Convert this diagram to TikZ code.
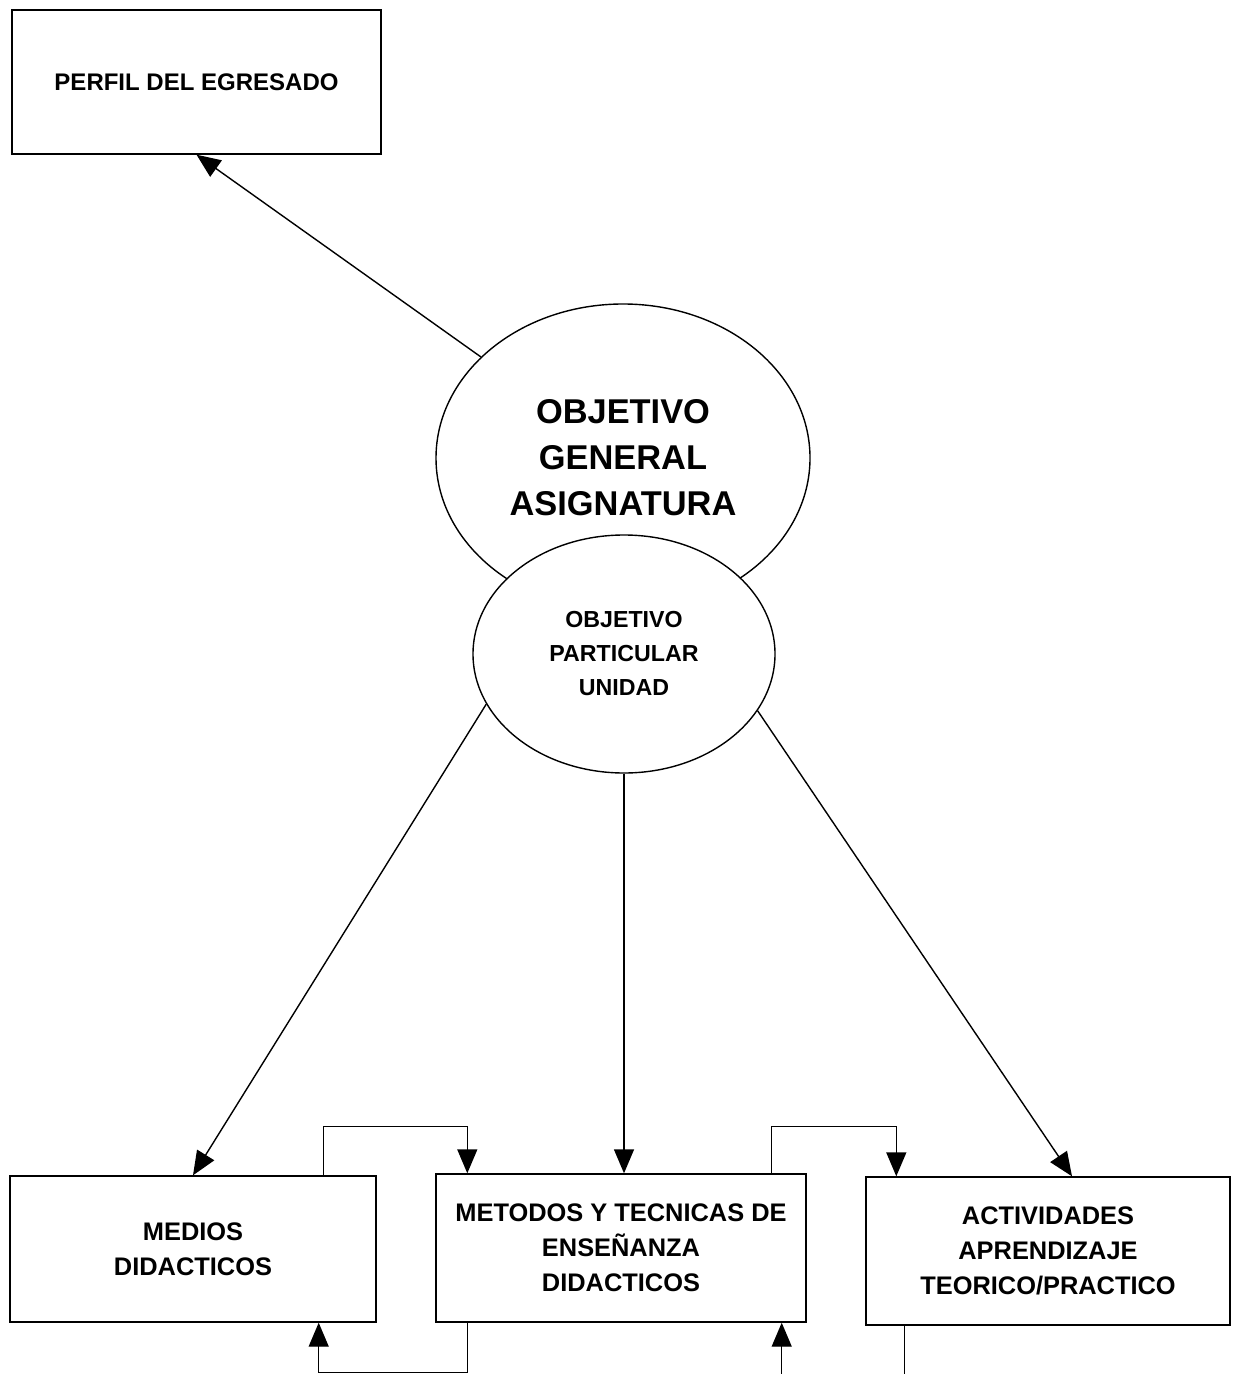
\documentclass[tikz,border=0pt]{standalone}
\usepackage{fontspec}
\setmainfont{Liberation Sans}
\usetikzlibrary{arrows.meta,shapes.geometric}

\begin{document}
\begin{tikzpicture}[x=0.5pt,y=-0.5pt,line width=0.7pt,
    font=\bfseries\fontsize{12.7}{17.5}\selectfont,
    caja/.style={draw,rectangle,align=center,inner sep=0pt},
    ovalo/.style={draw,ellipse,align=center,inner sep=0pt,fill=white},
    flecha/.style={-{Triangle[length=12pt,width=10pt]}}]
\useasboundingbox (0,0) rectangle (1232,1374);
\clip (0,0) rectangle (1232,1374);
\node[caja,minimum width=184.5pt,minimum height=72pt,font=\bfseries\fontsize{12}{16}\selectfont] (perfil) at (196.5,82) {PERFIL DEL EGRESADO};
\node[ovalo,minimum width=187pt,minimum height=154pt,font=\bfseries\fontsize{17.2}{23}\selectfont] (general) at (623,458) {OBJETIVO\\GENERAL\\ASIGNATURA};
\node[ovalo,minimum width=151pt,minimum height=119pt,font=\bfseries\fontsize{11.6}{17}\selectfont] (particular) at (624,654) {OBJETIVO\\PARTICULAR\\UNIDAD};
\node[caja,minimum width=183pt,minimum height=73pt] (medios) at (193,1249) {MEDIOS\\DIDACTICOS};
\node[caja,minimum width=185pt,minimum height=74pt] (metodos) at (621,1248) {METODOS Y TECNICAS DE\\ENSEÑANZA\\DIDACTICOS};
\node[caja,minimum width=182pt,minimum height=74pt] (actividades) at (1048,1251) {ACTIVIDADES\\APRENDIZAJE\\TEORICO/PRACTICO};
\draw[flecha] (general) -- (perfil.south);
\draw[flecha] (particular.200) -- (medios.north);
\draw[flecha] (particular.south) -- (particular.south |- metodos.north);
\draw[flecha] (particular.337) -- ([xshift=12pt]actividades.north);
\draw[flecha] ([xshift=-26.5pt]medios.north east) -- ++(0,-49) -| ([xshift=16pt]metodos.north west);
\draw[flecha] ([xshift=-17.5pt]metodos.north east) -- ++(0,-47) -| ([xshift=15.5pt]actividades.north west);
\draw[flecha] ([xshift=16pt]metodos.south west) -- ++(0,50) -| ([xshift=-29pt]medios.south east);
\draw[flecha] ([xshift=19.5pt]actividades.south west) -- ++(0,70) -| ([xshift=-12.5pt]metodos.south east);
\end{tikzpicture}
\end{document}
